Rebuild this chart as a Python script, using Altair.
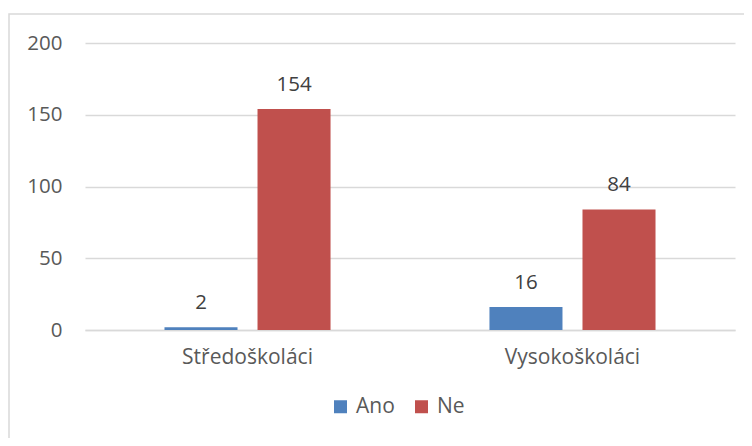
import altair as alt
import pandas as pd

categories = ["Středoškoláci", "Středoškoláci", "Vysokoškoláci", "Vysokoškoláci"]
series = ["Ano", "Ne", "Ano", "Ne"]
values = [2, 154, 16, 84]

df = pd.DataFrame({"kategorie": categories, "odpoved": series, "pocet": values})

FONT = "Open Sans"
W, H = 650, 287

x = alt.X("kategorie:N", sort=["Středoškoláci", "Vysokoškoláci"],
          scale=alt.Scale(paddingInner=0.489, paddingOuter=0.2446),
          axis=alt.Axis(title=None, labelAngle=0, ticks=False, domain=True,
                        domainColor="#D9D9D9", domainWidth=1.5,
                        labelPadding=16, labelFontSize=21, labelColor="#595959",
                        labelFont=FONT, grid=False))
xoff = alt.XOffset("odpoved:N", scale=alt.Scale(paddingInner=0.215, paddingOuter=0))
y = alt.Y("pocet:Q", scale=alt.Scale(domain=[0, 200]),
          axis=alt.Axis(title=None, values=[0, 50, 100, 150, 200], ticks=False,
                        domain=False, labelPadding=23, labelFontSize=20.5,
                        labelColor="#595959", labelFont=FONT,
                        gridColor="#D9D9D9", gridWidth=1.5))
color = alt.Color("odpoved:N",
                  scale=alt.Scale(domain=["Ano", "Ne"], range=["#4F81BD", "#C0504D"]),
                  legend=alt.Legend(title=None, orient="none", direction="horizontal",
                                    legendX=245, legendY=353, symbolType="square",
                                    symbolSize=169, symbolStrokeWidth=0,
                                    labelFontSize=21, labelColor="#595959",
                                    labelFont=FONT, labelOffset=5, columnPadding=16))

bars = alt.Chart(df).mark_bar().encode(x=x, xOffset=xoff, y=y, color=color)
labels = alt.Chart(df).mark_text(baseline="alphabetic", dy=-18, fontSize=20.5,
                                 font=FONT, color="#404040").encode(
    x=alt.X("kategorie:N", sort=["Středoškoláci", "Vysokoškoláci"]),
    xOffset="odpoved:N", y="pocet:Q", text="pocet:Q")

border = alt.Chart(pd.DataFrame({"a": [0]})).mark_rect(
    fill=None, stroke="#D9D9D9", strokeWidth=1.5).encode(
    x=alt.value(-76), x2=alt.value(720), y=alt.value(-29), y2=alt.value(420))

chart = alt.layer(border, bars, labels).properties(
    width=W, height=H,
    autosize=alt.AutoSizeParams(type="none"),
    padding={"left": 77, "top": 35, "right": 9, "bottom": 108},
).configure_view(stroke=None)

chart.save("out.html", embed_options={"renderer": "svg", "actions": False})
